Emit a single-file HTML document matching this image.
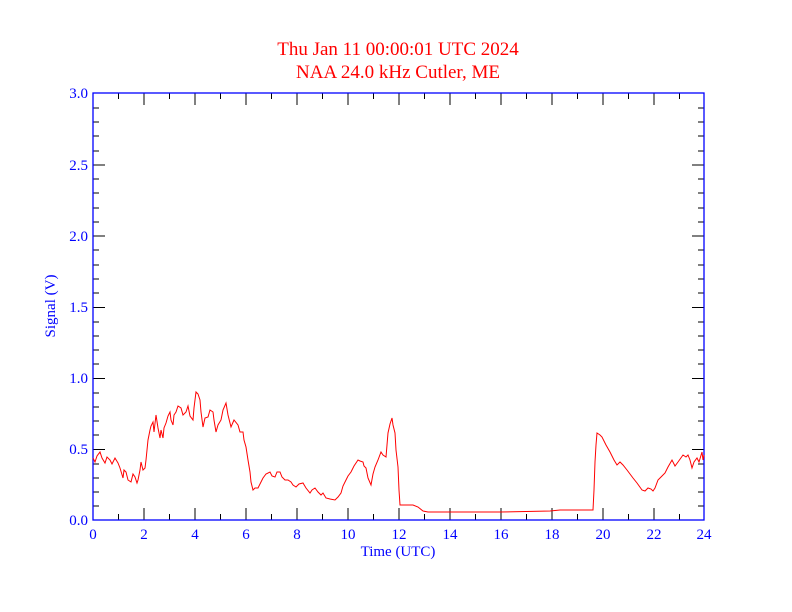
<!DOCTYPE html>
<html><head><meta charset="utf-8"><style>
body{margin:0;background:#fff;}
svg{display:block;font-family:"Liberation Serif",serif;}
</style></head><body>
<svg width="792" height="612" xmlns="http://www.w3.org/2000/svg">
<rect width="792" height="612" fill="#fff"/>
<text x="398" y="55" fill="#f00" font-size="19" text-anchor="middle">Thu Jan 11 00:00:01 UTC 2024</text>
<text x="398" y="78" fill="#f00" font-size="19" text-anchor="middle">NAA 24.0 kHz Cutler, ME</text>
<g stroke="#000" stroke-width="1">
<path d="M118.5 520v-6M144 520v-12M169.5 520v-6M195 520v-12M220.5 520v-6M246 520v-12M271.5 520v-6M297 520v-12M322.5 520v-6M348 520v-12M373.5 520v-6M399 520v-12M424.5 520v-6M450 520v-12M475.5 520v-6M501 520v-12M526.5 520v-6M552 520v-12M577.5 520v-6M603 520v-12M628.5 520v-6M654 520v-12M679.5 520v-6
M118.5 93v6M144 93v12M169.5 93v6M195 93v12M220.5 93v6M246 93v12M271.5 93v6M297 93v12M322.5 93v6M348 93v12M373.5 93v6M399 93v12M424.5 93v6M450 93v12M475.5 93v6M501 93v12M526.5 93v6M552 93v12M577.5 93v6M603 93v12M628.5 93v6M654 93v12M679.5 93v6"/>
<path id="yt" d="M93 506h6M93 492h6M93 478h6M93 464h6M93 449.5h12M93 435h6M93 421h6M93 407h6M93 393h6M93 378.5h12M93 364h6M93 350h6M93 336h6M93 322h6M93 307.5h12M93 293h6M93 279h6M93 265h6M93 250h6M93 236h12M93 222h6M93 208h6M93 193h6M93 179h6M93 165h12M93 151h6M93 136h6M93 122h6M93 108h6
M704 506h-6M704 492h-6M704 478h-6M704 464h-6M704 449.5h-12M704 435h-6M704 421h-6M704 407h-6M704 393h-6M704 378.5h-12M704 364h-6M704 350h-6M704 336h-6M704 322h-6M704 307.5h-12M704 293h-6M704 279h-6M704 265h-6M704 250h-6M704 236h-12M704 222h-6M704 208h-6M704 193h-6M704 179h-6M704 165h-12M704 151h-6M704 136h-6M704 122h-6M704 108h-6"/>
</g>
<rect x="93" y="93" width="611" height="427" fill="none" stroke="#00f" stroke-width="1.3"/>
<g fill="#00f" font-size="15" text-anchor="end">
<text x="88" y="525">0.0</text><text x="88" y="454">0.5</text><text x="88" y="383">1.0</text><text x="88" y="312">1.5</text><text x="88" y="241">2.0</text><text x="88" y="170">2.5</text><text x="88" y="98">3.0</text>
</g>
<g fill="#00f" font-size="15" text-anchor="middle">
<text x="93" y="539">0</text><text x="144" y="539">2</text><text x="195" y="539">4</text><text x="246" y="539">6</text><text x="297" y="539">8</text><text x="348" y="539">10</text><text x="399" y="539">12</text><text x="450" y="539">14</text><text x="501" y="539">16</text><text x="552" y="539">18</text><text x="603" y="539">20</text><text x="654" y="539">22</text><text x="704" y="539">24</text>
<text x="398" y="556">Time (UTC)</text>
<text transform="translate(55,306) rotate(-90)">Signal (V)</text>
</g>
<polyline fill="none" stroke="#f00" stroke-width="1" points="93,458 95,462 97,456 100,452 102,458 105,463 107,457 110,460 112,464 115,458 118,463 120,468 123,478 124,470 126,472 128,480 131,482 133,474 135,477 137,483 138,480 140,470 141,462 143,470 145,468 146,460 147,450 148,440 150,430 151,426 153,422 154,432 156,415 158,428 160,438 161,430 163,438 164,428 166,423 168,416 170,412 171,420 173,425 174,415 176,412 178,406 181,408 183,415 186,412 188,406 190,416 193,420 194,408 196,392 198,394 200,400 201,412 203,427 205,418 208,417 210,410 213,412 214,420 216,432 218,425 221,420 223,410 226,403 228,415 231,427 234,420 238,425 240,432 243,432 244,440 246,447 248,460 250,472 251,482 253,490 255,488 258,488 260,484 263,478 266,474 270,472 272,476 275,477 277,472 280,472 282,477 285,480 288,480 291,482 293,485 296,487 299,484 303,483 306,488 310,493 312,490 315,488 318,492 321,495 323,493 326,498 330,499 335,500 338,497 341,493 343,486 346,480 348,476 351,472 354,466 358,460 360,461 363,462 364,466 366,468 368,478 371,485 373,474 375,467 378,460 381,452 383,455 386,457 387,445 388,433 390,424 392,418 393,425 395,433 396,450 398,467 399,490 400,505 413,505 418,507 423,511 428,512 433,512 500,512 550,511 560,510 570,510 580,510 593,510 594,490 595,462 596,445 597,433 600,435 602,437 606,445 610,452 614,460 617,465 620,462 623,465 627,470 630,474 633,478 637,483 642,490 645,491 648,488 651,489 653,491 655,488 658,480 662,476 665,473 668,467 672,460 675,466 678,462 683,455 686,457 688,455 690,460 692,468 694,462 697,458 699,462 702,452 703,460 704,455"/>
</svg>
</body></html>
